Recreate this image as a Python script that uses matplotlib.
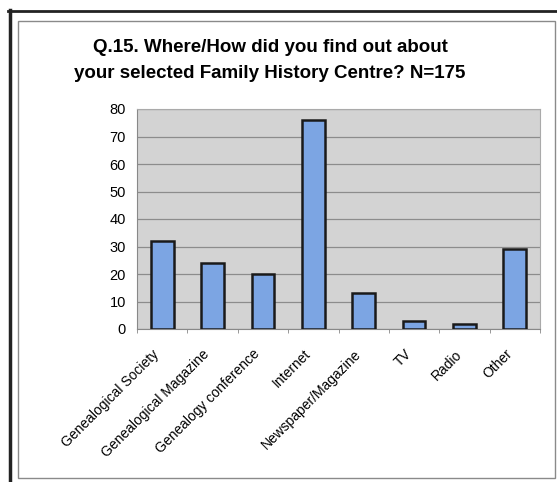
import matplotlib.pyplot as plt
import numpy as np
from matplotlib.patches import Rectangle
from matplotlib.transforms import ScaledTranslation

plt.rcParams['font.family'] = ['Liberation Sans', 'DejaVu Sans']

categories = ['Genealogical Society', 'Genealogical Magazine', 'Genealogy conference',
              'Internet', 'Newspaper/Magazine', 'TV', 'Radio', 'Other']
counts = [32, 24, 20, 76, 13, 3, 2, 29]
yticks = [0, 10, 20, 30, 40, 50, 60, 70, 80]
title_lines = ['Q.15. Where/How did you find out about',
               'your selected Family History Centre? N=175']

W, H = 557, 482
fig = plt.figure(figsize=(W / 100, H / 100), dpi=100)
fig.patch.set_facecolor('white')

# outer dark frame (left + top) and inner thin frame
fig.add_artist(plt.Line2D([9.5 / W, 9.5 / W], [0, 1 - 10 / H], color='#222222', lw=2.5,
                          transform=fig.transFigure))
fig.add_artist(plt.Line2D([8 / W, 1], [1 - 11 / H, 1 - 11 / H], color='#222222', lw=2.0,
                          transform=fig.transFigure))
fig.add_artist(Rectangle((18 / W, 1 - 478 / H), (555 - 18) / W, (478 - 21) / H,
                         transform=fig.transFigure, fill=False, ec='#8a8a8a', lw=1.0))

left, right, top, bottom = 137, 540, 109, 329
ax = fig.add_axes([left / W, 1 - bottom / H, (right - left) / W, (bottom - top) / H])
ax.set_facecolor('#d3d3d3')

x = np.arange(len(categories))
ax.bar(x, counts, width=0.45, color='#7ca5e3', edgecolor='#1a1a1a', linewidth=1.8, zorder=3)

ax.set_xlim(-0.5, len(categories) - 0.5)
ax.set_ylim(0, 80)
ax.set_yticks(yticks)
ax.yaxis.grid(True, color='#8c8c8c', linewidth=0.9, zorder=0)
ax.tick_params(axis='y', length=0, labelsize=10.5, pad=8)
ax.set_xticks(x)
ax.set_xticklabels(categories, rotation=45, ha='right', rotation_mode='anchor', fontsize=10)
ax.tick_params(axis='x', length=0, pad=13)
shift = ScaledTranslation(-10 / 100, 0, fig.dpi_scale_trans)
for lab in ax.get_xticklabels():
    lab.set_transform(lab.get_transform() + shift)
ax.set_xticks(np.arange(len(categories) + 1) - 0.5, minor=True)
ax.tick_params(axis='x', which='minor', length=3, color='#888888', direction='out')
for s in ['top', 'right']:
    ax.spines[s].set_color('#aaaaaa')
for s in ['left', 'bottom']:
    ax.spines[s].set_color('#888888')

# title, one line at a time
for ty, line in zip([47, 73], title_lines):
    fig.text(270 / W, 1 - ty / H, line, ha='center', va='center', fontsize=13.5,
             fontweight='bold')

fig.savefig('out.png', dpi=100)
